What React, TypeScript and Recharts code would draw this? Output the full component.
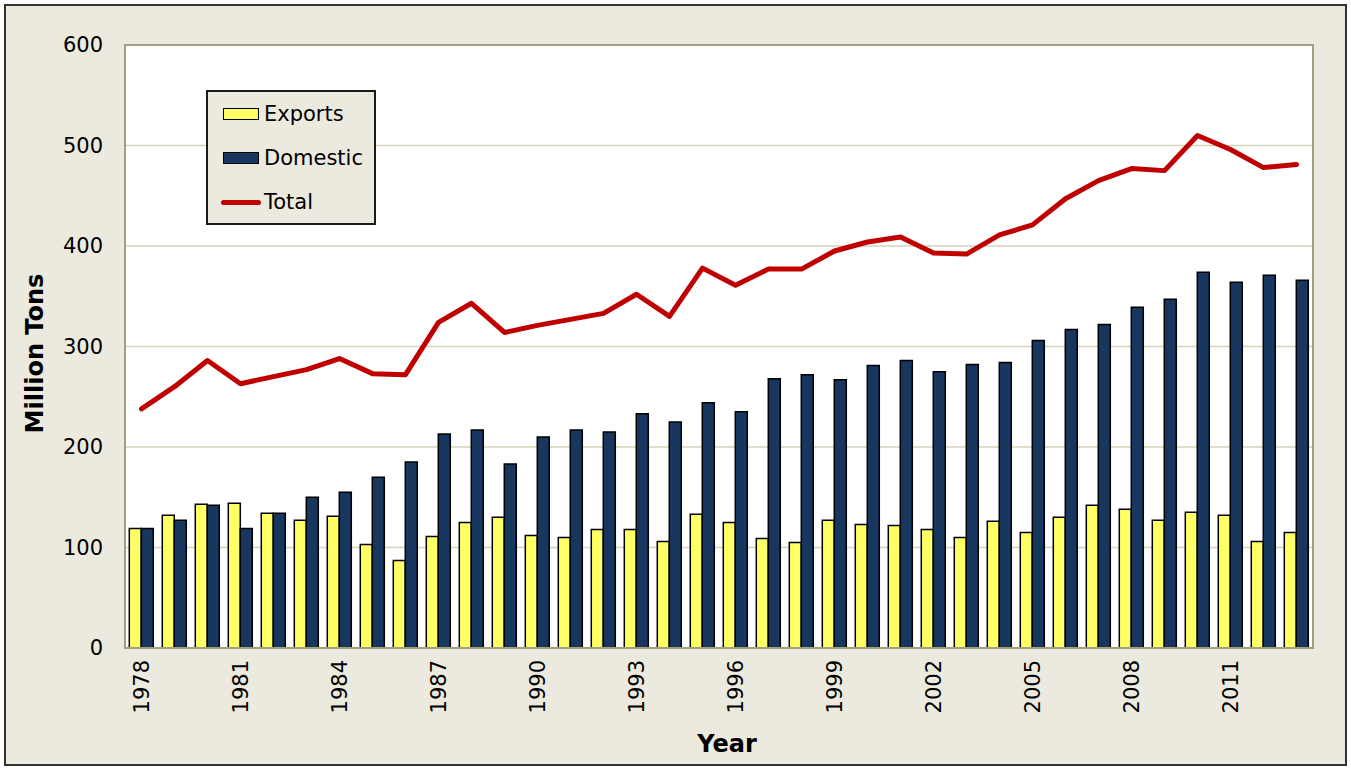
import { ComposedChart, Bar, Line, XAxis, YAxis, CartesianGrid, Legend, Label, ReferenceArea } from 'recharts';

const years = [
  '1978', '1979', '1980', '1981', '1982', '1983', '1984', '1985', '1986', '1987', '1988', '1989',
  '1990', '1991', '1992', '1993', '1994', '1995', '1996', '1997', '1998', '1999', '2000', '2001',
  '2002', '2003', '2004', '2005', '2006', '2007', '2008', '2009', '2010', '2011', '2012', '2013',
];

const exportsTons = [
  119, 132, 143, 144, 134, 127, 131, 103, 87, 111, 125, 130,
  112, 110, 118, 118, 106, 133, 125, 109, 105, 127, 123, 122,
  118, 110, 126, 115, 130, 142, 138, 127, 135, 132, 106, 115,
];

const domesticTons = [
  119, 127, 142, 119, 134, 150, 155, 170, 185, 213, 217, 183,
  210, 217, 215, 233, 225, 244, 235, 268, 272, 267, 281, 286,
  275, 282, 284, 306, 317, 322, 339, 347, 374, 364, 371, 366,
];

const totalTons = [
  238, 260, 286, 263, 270, 277, 288, 273, 272, 324, 343, 314,
  321, 327, 333, 352, 330, 378, 361, 377, 377, 395, 404, 409,
  393, 392, 411, 421, 447, 465, 477, 475, 510, 496, 478, 481,
];

const yTicks = [0, 100, 200, 300, 400, 500, 600];

// legend order as in the original
const seriesOrder = ['Exports', 'Domestic', 'Total'];

const data = years.map((year, i) => ({
  year,
  exports: exportsTons[i],
  domestic: domesticTons[i],
  total: totalTons[i],
}));

const FONT = '"DejaVu Sans", Verdana, sans-serif';
const BEIGE = '#ECEADF';
const AXIS = '#A39E7C';
const GRID = '#D6D2B9';

function YearTick(props: any) {
  const { x, y, payload } = props;
  const ty = y + 4;
  return (
    <text
      x={x}
      y={ty}
      transform={`rotate(-90, ${x}, ${ty})`}
      textAnchor="end"
      dominantBaseline="central"
      fontFamily={FONT}
      fontSize={21}
      fill="#000"
    >
      {payload.value}
    </text>
  );
}

function YLabel(props: any) {
  const { viewBox } = props;
  const x = viewBox.x + 15;
  const y = viewBox.y + viewBox.height / 2 + 7;
  return (
    <text
      x={x}
      y={y}
      transform={`rotate(-90, ${x}, ${y})`}
      textAnchor="middle"
      dominantBaseline="central"
      fontFamily={FONT}
      fontSize={24}
      fontWeight="bold"
      fill="#000"
    >
      Million Tons
    </text>
  );
}

function XLabel(props: any) {
  const { viewBox } = props;
  return (
    <text
      x={viewBox.x + viewBox.width / 2 + 8}
      y={viewBox.y + viewBox.height - 6}
      textAnchor="middle"
      fontFamily={FONT}
      fontSize={24}
      fontWeight="bold"
      fill="#000"
    >
      Year
    </text>
  );
}

function LegendBox(props: any) {
  const items = [...(props.payload || [])].sort(
    (a: any, b: any) => seriesOrder.indexOf(a.value) - seriesOrder.indexOf(b.value)
  );
  return (
    <div
      style={{
        width: 170,
        height: 135,
        boxSizing: 'border-box',
        border: '2px solid #1a1a1a',
        background: BEIGE,
        paddingLeft: 13,
        fontFamily: FONT,
        fontSize: 21,
        color: '#000',
      }}
    >
      {items.map((entry: any) => (
        <div key={entry.value} style={{ display: 'flex', alignItems: 'center', height: 44 }}>
          {entry.type === 'line' ? (
            <div style={{ width: 40, height: 5, borderRadius: 3, background: entry.color, marginRight: 3 }} />
          ) : (
            <div
              style={{
                width: 36,
                height: 12,
                boxSizing: 'border-box',
                border: '1.5px solid #000',
                background: entry.color,
                marginLeft: 2,
                marginRight: 5,
              }}
            />
          )}
          <span>{entry.value}</span>
        </div>
      ))}
    </div>
  );
}

export default function App() {
  return (
    <div style={{ position: 'absolute', left: 0, top: 0, width: 1351, height: 768, fontFamily: FONT }}>
      <div
        style={{
          position: 'absolute',
          left: 4,
          top: 4,
          width: 1343,
          height: 762,
          boxSizing: 'border-box',
          border: '2px solid #333',
          background: BEIGE,
        }}
      />
      <div style={{ position: 'absolute', left: 0, top: 0 }}>
        <ComposedChart
          width={1351}
          height={768}
          data={data}
          margin={{ top: 45, right: 38, left: 20, bottom: 10 }}
          barCategoryGap="13%"
          barGap={0}
        >
          <CartesianGrid vertical={false} stroke={GRID} strokeWidth={1.5} fill="#fff" />
          <XAxis
            dataKey="year"
            interval={2}
            height={110}
            tickLine={false}
            axisLine={{ stroke: AXIS, strokeWidth: 2 }}
            tick={<YearTick />}
          >
            <Label content={<XLabel />} />
          </XAxis>
          <YAxis
            width={105}
            domain={[0, 600]}
            ticks={yTicks}
            tickLine={false}
            tickMargin={16}
            axisLine={{ stroke: AXIS, strokeWidth: 2 }}
            tick={{ fontFamily: FONT, fontSize: 21, fill: '#000' }}
          >
            <Label content={<YLabel />} />
          </YAxis>
          <ReferenceArea y1={0} y2={600} fill="none" stroke={AXIS} strokeWidth={2} ifOverflow="visible" />
          <Legend
            layout="vertical"
            align="center"
            verticalAlign="middle"
            wrapperStyle={{ left: 206, top: 90, width: 170 }}
            content={<LegendBox />}
          />
          <Bar dataKey="exports" name="Exports" fill="#FFFF66" stroke="#000" strokeWidth={1.5} isAnimationActive={false} />
          <Bar dataKey="domestic" name="Domestic" fill="#17375E" stroke="#000" strokeWidth={1.5} isAnimationActive={false} />
          <Line
            dataKey="total"
            name="Total"
            type="linear"
            stroke="#C00000"
            strokeWidth={5}
            dot={false}
            strokeLinecap="round"
            strokeLinejoin="round"
            isAnimationActive={false}
          />
        </ComposedChart>
      </div>
    </div>
  );
}
